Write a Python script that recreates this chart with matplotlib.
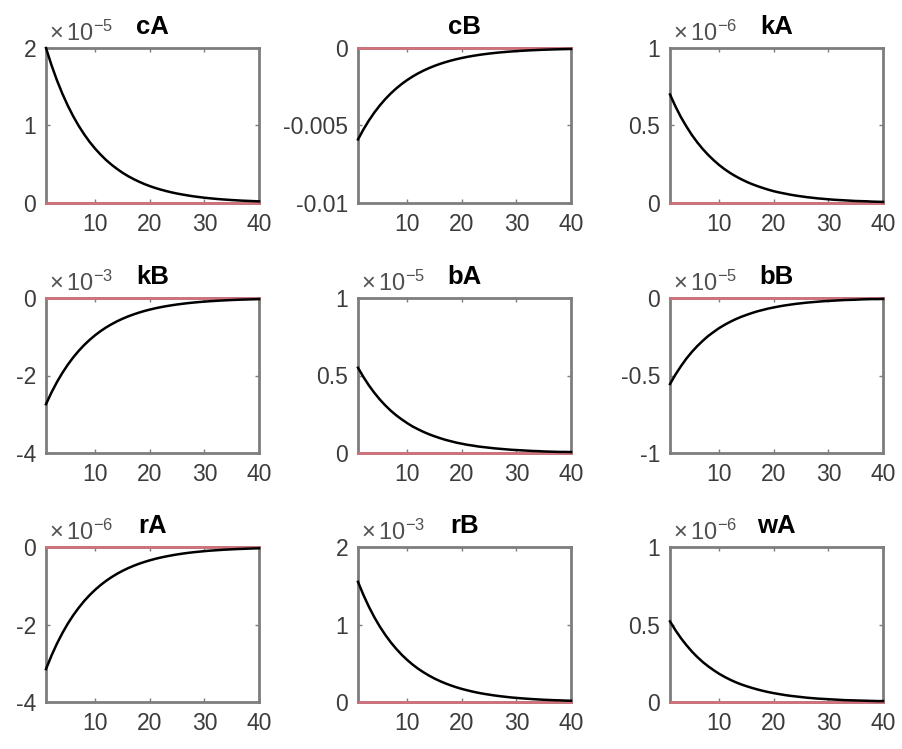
import numpy as np
import matplotlib
matplotlib.use("Agg")
import matplotlib.pyplot as plt

plt.rcParams['font.family'] = ['Liberation Sans', 'DejaVu Sans']
plt.rcParams['mathtext.default'] = 'regular'
plt.rcParams['axes.unicode_minus'] = False

periods = list(range(1, 41))

# values in displayed units (multiply by 10**exponent for true values)
cA = [2.000, 1.780, 1.584, 1.410, 1.255, 1.117, 0.994, 0.885, 0.787, 0.701,
      0.624, 0.555, 0.494, 0.440, 0.391, 0.348, 0.310, 0.276, 0.245, 0.218,
      0.194, 0.173, 0.154, 0.137, 0.122, 0.109, 0.097, 0.086, 0.077, 0.068,
      0.061, 0.054, 0.048, 0.043, 0.038, 0.034, 0.030, 0.027, 0.024, 0.021]
cB = [-0.005900, -0.005251, -0.004673, -0.004160, -0.003702, -0.003295, -0.002932, -0.002610, -0.002323, -0.002067,
      -0.001840, -0.001637, -0.001457, -0.001297, -0.001154, -0.001027, -0.000915, -0.000814, -0.000724, -0.000644,
      -0.000573, -0.000510, -0.000454, -0.000404, -0.000360, -0.000320, -0.000285, -0.000254, -0.000226, -0.000201,
      -0.000179, -0.000159, -0.000142, -0.000126, -0.000112, -0.000100, -0.000089, -0.000079, -0.000070, -0.000063]
kA = [0.700, 0.623, 0.554, 0.494, 0.439, 0.391, 0.348, 0.310, 0.276, 0.245,
      0.218, 0.194, 0.173, 0.154, 0.137, 0.122, 0.109, 0.097, 0.086, 0.076,
      0.068, 0.061, 0.054, 0.048, 0.043, 0.038, 0.034, 0.030, 0.027, 0.024,
      0.021, 0.019, 0.017, 0.015, 0.013, 0.012, 0.011, 0.009, 0.008, 0.007]
kB = [-2.740, -2.439, -2.170, -1.932, -1.719, -1.530, -1.362, -1.212, -1.079, -0.960,
      -0.854, -0.760, -0.677, -0.602, -0.536, -0.477, -0.425, -0.378, -0.336, -0.299,
      -0.266, -0.237, -0.211, -0.188, -0.167, -0.149, -0.132, -0.118, -0.105, -0.093,
      -0.083, -0.074, -0.066, -0.059, -0.052, -0.046, -0.041, -0.037, -0.033, -0.029]
bA = [0.550, 0.490, 0.436, 0.388, 0.345, 0.307, 0.273, 0.243, 0.217, 0.193,
      0.171, 0.153, 0.136, 0.121, 0.108, 0.096, 0.085, 0.076, 0.067, 0.060,
      0.053, 0.048, 0.042, 0.038, 0.034, 0.030, 0.027, 0.024, 0.021, 0.019,
      0.017, 0.015, 0.013, 0.012, 0.010, 0.009, 0.008, 0.007, 0.007, 0.006]
bB = [-0.555, -0.494, -0.440, -0.391, -0.348, -0.310, -0.276, -0.245, -0.219, -0.194,
      -0.173, -0.154, -0.137, -0.122, -0.109, -0.097, -0.086, -0.077, -0.068, -0.061,
      -0.054, -0.048, -0.043, -0.038, -0.034, -0.030, -0.027, -0.024, -0.021, -0.019,
      -0.017, -0.015, -0.013, -0.012, -0.011, -0.009, -0.008, -0.007, -0.007, -0.006]
rA = [-3.150, -2.804, -2.495, -2.221, -1.976, -1.759, -1.566, -1.393, -1.240, -1.104,
      -0.982, -0.874, -0.778, -0.692, -0.616, -0.548, -0.488, -0.434, -0.387, -0.344,
      -0.306, -0.272, -0.243, -0.216, -0.192, -0.171, -0.152, -0.135, -0.121, -0.107,
      -0.095, -0.085, -0.076, -0.067, -0.060, -0.053, -0.048, -0.042, -0.037, -0.033]
rB = [1.550, 1.380, 1.228, 1.093, 0.972, 0.866, 0.770, 0.686, 0.610, 0.543,
      0.483, 0.430, 0.383, 0.341, 0.303, 0.270, 0.240, 0.214, 0.190, 0.169,
      0.151, 0.134, 0.119, 0.106, 0.095, 0.084, 0.075, 0.067, 0.059, 0.053,
      0.047, 0.042, 0.037, 0.033, 0.029, 0.026, 0.023, 0.021, 0.018, 0.016]
wA = [0.520, 0.463, 0.412, 0.367, 0.326, 0.290, 0.258, 0.230, 0.205, 0.182,
      0.162, 0.144, 0.128, 0.114, 0.102, 0.091, 0.081, 0.072, 0.064, 0.057,
      0.051, 0.045, 0.040, 0.036, 0.032, 0.028, 0.025, 0.022, 0.020, 0.018,
      0.016, 0.014, 0.012, 0.011, 0.010, 0.009, 0.008, 0.007, 0.006, 0.006]

titles = ['cA', 'cB', 'kA', 'kB', 'bA', 'bB', 'rA', 'rB', 'wA']
series = [cA, cB, kA, kB, bA, bB, rA, rB, wA]
exponents = [-5, None, -6, -3, -5, -5, -6, -3, -6]
yticks = [[0, 1, 2], [-0.01, -0.005, 0], [0, 0.5, 1],
          [-4, -2, 0], [0, 0.5, 1], [-1, -0.5, 0],
          [-4, -2, 0], [0, 1, 2], [0, 0.5, 1]]
yticklabels = [['0', '1', '2'], ['-0.01', '-0.005', '0'], ['0', '0.5', '1'],
               ['-4', '-2', '0'], ['0', '0.5', '1'], ['-1', '-0.5', '0'],
               ['-4', '-2', '0'], ['0', '1', '2'], ['0', '0.5', '1']]
xticks = [10, 20, 30, 40]
xticklabels = ['10', '20', '30', '40']

W, H = 903, 749
fig = plt.figure(figsize=(W / 100, H / 100), dpi=100)
lefts = [46, 358, 670]
tops = [48, 298, 547]
aw, ah = 213, 155

frame_col = '#7d7d7d'
text_col = '#3c3c3c'

for i, (name, y, ex, yt, ytl) in enumerate(zip(titles, series, exponents, yticks, yticklabels)):
    r, c = divmod(i, 3)
    ax = fig.add_axes([lefts[c] / W, 1 - (tops[r] + ah) / H, aw / W, ah / H])
    ax.plot(periods, [0] * len(periods), color='#d8707a', lw=1.8, zorder=3, clip_on=False)
    ax.plot(periods, y, color='black', lw=1.8, zorder=4, clip_on=False)
    ax.set_xlim(1, 40)
    ax.set_ylim(yt[0], yt[-1])
    ax.set_xticks(xticks)
    ax.set_xticklabels(xticklabels)
    ax.set_yticks(yt)
    ax.set_yticklabels(ytl)
    for sp in ax.spines.values():
        sp.set_color(frame_col)
        sp.set_linewidth(2.0)
    ax.tick_params(direction='in', length=3, width=1, color=frame_col,
                   top=True, right=True, labelsize=16.5, labelcolor=text_col)
    ax.tick_params(axis='y', pad=7)
    ax.tick_params(axis='x', pad=7)
    ax.set_title(name, fontsize=18.5, fontweight='bold', pad=10)
    if ex is not None:
        ax.annotate(r'$\times\,10^{%d}$' % ex, xy=(0, 1), xycoords='axes fraction',
                    xytext=(2.5, 5), textcoords='offset points',
                    ha='left', va='baseline', fontsize=17, color='#505050')

fig.savefig('out.png', dpi=100)
